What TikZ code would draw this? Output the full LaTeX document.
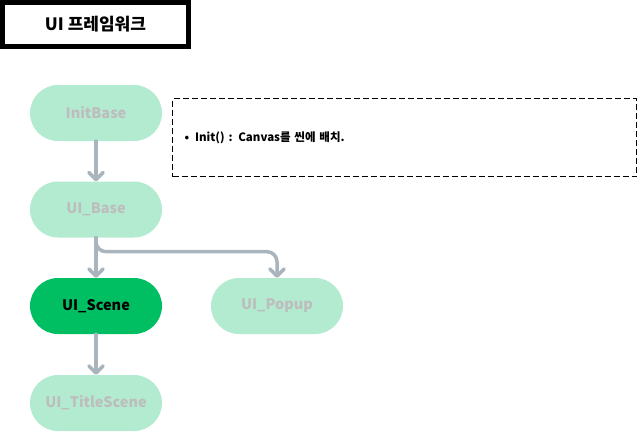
\documentclass[tikz,border=0pt]{standalone}
\usepackage{fontspec}
\setmainfont{Noto Sans CJK KR}
\usetikzlibrary{arrows.meta,positioning}

\definecolor{pillfill}{HTML}{B3EBD0}
\definecolor{pilltext}{HTML}{BDBDBD}
\definecolor{activefill}{HTML}{00BF63}
\definecolor{linkgray}{HTML}{A9B4BD}

\begin{document}
\begin{tikzpicture}[
      x=1pt, y=-1pt,
      cls/.style={fill=pillfill,rounded corners=28pt,minimum height=56pt,minimum width=132pt,
                  text=pilltext,font=\bfseries\fontsize{14.5}{16}\selectfont,inner sep=0pt},
      active/.style={cls,fill=activefill,text=black},
      link/.style={-{Straight Barb[length=2.5mm,width=5mm,round]},line width=3.5pt,linkgray,line cap=round},
    ]
    \useasboundingbox (0,0) rectangle (639,432);
    \node[draw,line width=5pt,minimum width=186pt,minimum height=44pt,font=\bfseries\fontsize{17}{19}\selectfont]
      (title) at (95.5,24.5) {UI 프레임워크};

    \node[cls]    (initbase) at (96,113) {InitBase};
    \node[cls]    (uibase)   at (96,209.5) {UI\_Base};
    \node[active] (scene)    at (96,306) {UI\_Scene};
    \node[cls]    (popup)    at (277,306) {UI\_Popup};
    \node[cls]    (title2)   at (96,403) {UI\_TitleScene};

    \draw[link] (initbase) -- (uibase);
    \draw[link] (uibase) -- (scene);
    \draw[link,rounded corners=10pt] (uibase.south) -- ++(0,14) -| (popup.north);
    \draw[link] (scene) -- (title2);

    % note
    \node[draw,dash pattern=on 6pt off 3pt,line width=1.6pt,minimum width=464pt,minimum height=78pt,
          text width=440pt,align=left,font=\bfseries\fontsize{11.5}{13}\selectfont]
      (note) at (404.5,137.5) {\textbullet\hspace{6pt}Init() : Canvas를 씬에 배치.};
  \end{tikzpicture}
\end{document}
